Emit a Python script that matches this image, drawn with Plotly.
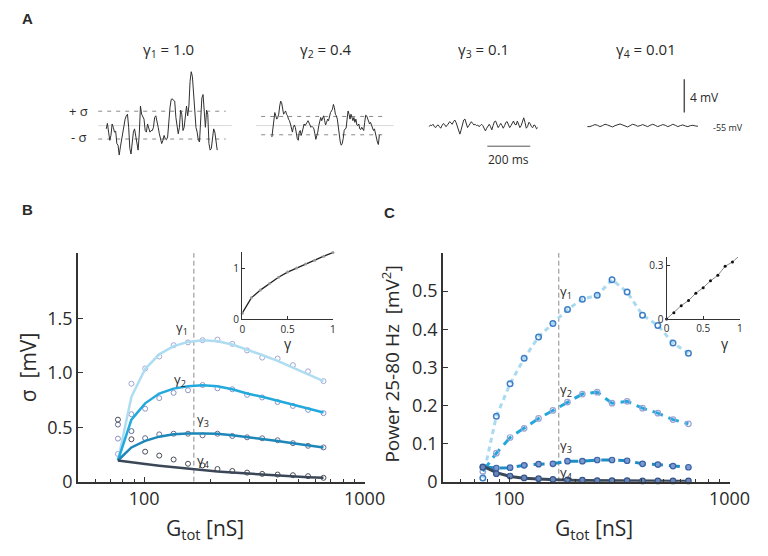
import numpy as np
import plotly.graph_objects as go

# ---------------- DATA ----------------
# Panel A: membrane potential deviation from rest (-55 mV), in mV, uniformly sampled
dv_gamma1 = [-0.39, 0.27, -0.78, -1.76, -1.18, 0.20, -0.20, -0.78, -0.67, -2.16, -2.35, -3.53, -2.55, -1.57,
             -0.78, 0.0, 0.78, 1.18, 1.37, -0.20, -2.75, -3.41, -2.16, -0.78, -0.39, -1.18, -1.76, -2.94,
             -0.98, 2.35, 1.37, 0.98, 0.78, -0.59, -0.78, 0.20, -0.39, -0.78, -0.59, -0.59, -0.20, 0.98,
             1.18, 0.59, -0.20, -0.98, -1.57, -2.16, -1.76, -1.18, -1.57, -1.69, -1.37, 0.78, 2.16, 3.14,
             3.22, 3.02, 2.94, 0.98, -0.20, -0.98, -0.20, 1.84, 1.37, -0.59, -0.20, 1.18, 2.35, 1.18, 2.35,
             5.29, 6.47, 5.88, 4.12, 1.37, -0.20, -0.78, -1.76, -1.96, 0.98, 3.33, 3.73, 1.76, -0.20, 1.84,
             1.37, -2.16, -2.94, -2.75, -1.37, -0.39, -0.78, -1.76, -2.94]
dv_gamma2 = [-1.37, -0.39, 0.98, 1.57, 1.18, 0.78, 0.98, 1.37, 2.35, 2.94, 2.75, 1.96, 1.37, 1.57, 1.76,
             1.37, 1.18, 0.78, 0.59, 0.20, -0.39, -0.78, -0.20, 0.08, -0.20, -0.98, -1.57, -1.76, -0.78,
             -0.59, -1.18, -0.78, 0.0, 0.20, 0.0, 0.31, 0.39, 0.59, 0.39, 0.08, -0.20, -0.08, -0.20, -0.39,
             -0.98, -1.65, -1.18, -0.78, 0.0, 0.78, 0.98, 0.59, 0.98, 1.18, 0.59, 0.08, 0.39, 0.78, 0.59,
             1.18, 1.57, 1.76, 1.96, 2.55, 2.16, 1.37, 1.18, 0.78, -0.39, -1.18, -1.96, -2.35, -2.16, -1.57,
             -0.59, -0.39, -0.31, 0.78, 1.76, 1.37, 0.78, 1.37, 0.98, 0.59, 0.98, 0.39, 0.78, 0.08, 0.0,
             0.20, -0.39, -0.47, -0.20, -0.39, -0.59, 0.39, 1.25, 1.18, 0.78, 0.59, 0.20, 0.39, 0.0, -0.20,
             -0.59, -0.39, -0.98, -1.37, -1.96, -2.27, -1.18, -1.10]
dv_gamma3 = [-0.12, 0.08, 0.0, 0.16, -0.12, -0.24, 0.0, 0.08, -0.12, -0.31, 0.0, 0.24, 0.16, -0.12, 0.0,
             0.27, 0.47, 0.35, 0.16, 0.47, 0.67, 0.39, -0.12, -0.71, -1.02, -0.51, 0.27, 0.67, 0.78, 0.27,
             -0.24, 0.0, 0.20, 0.47, 0.27, 0.08, 0.16, 0.0, 0.08, -0.12, 0.0, 0.16, 0.0, -0.31, -0.63,
             -0.31, 0.0, 0.16, -0.12, -0.51, 0.0, 0.47, 0.55, 0.16, -0.24, 0.0, 0.27, 0.0, -0.31, 0.0,
             0.39, 0.47, 0.08, -0.24, 0.0, 0.39, 0.55, 0.16, 0.08, 0.55, 0.24, -0.24, 0.0, 0.47, 0.94,
             0.39, -0.31, -0.12, 0.39, 0.27, -0.12, -0.24, 0.08, 0.0, -0.39, -0.24]
dv_gamma4 = [-0.12, -0.12, 0.0, 0.12, 0.04, -0.12, 0.0, 0.16, 0.08, -0.08, -0.16, 0.0, 0.12, 0.20, 0.08,
             -0.08, -0.16, 0.0, 0.16, 0.08, -0.08, 0.0, 0.12, 0.0, -0.12, 0.04, 0.16, 0.04, -0.12, 0.0,
             0.12, 0.04, -0.12, 0.0, 0.16, 0.04, -0.12, 0.0, 0.08, -0.04, -0.12, 0.0, 0.04, -0.04, -0.08]
dt_ms = [5.5, 4.55, 5.95, 11.7]          # sampling interval of each trace
sigma_trace_gamma1 = [1.73, -1.61]        # +sigma / -sigma lines (mV)
sigma_trace_gamma2 = [1.10, -1.10]
gamma_titles = ["γ<sub>1</sub> = 1.0", "γ<sub>2</sub> = 0.4", "γ<sub>3</sub> = 0.1", "γ<sub>4</sub> = 0.01"]
scalebar_ms = 200
scalebar_mV = 4

# Panels B and C: total conductance (nS)
G_tot = [76, 87.5, 101, 117, 136, 158, 184, 215, 251, 293, 343, 403, 473, 554, 651]
G_ref = 168

# Panel B: sigma (mV), simulation (circles) and model (lines)
sigma_sim_g1 = [0.255, 0.90, 1.04, 1.15, 1.254, 1.28, 1.30, 1.305, 1.266, 1.206, 1.14, 1.131, 1.071, 1.014, 0.924]
sigma_sim_g2 = [0.396, 0.62, 0.67, 0.768, 0.816, 0.84, 0.888, 0.858, 0.849, 0.798, 0.774, 0.732, 0.696, 0.66, 0.63]
sigma_sim_g3 = [0.525, 0.465, 0.40, 0.435, 0.441, 0.441, 0.426, 0.441, 0.42, 0.408, 0.399, 0.381, 0.354, 0.33, 0.315]
sigma_sim_g4 = [0.57, 0.39, 0.276, 0.24, 0.204, 0.165, 0.15, 0.117, 0.099, 0.084, 0.072, 0.066, 0.06, 0.051, 0.036]
sigma_fit_g1 = [0.195, 0.78, 1.035, 1.17, 1.245, 1.284, 1.30, 1.29, 1.26, 1.215, 1.164, 1.11, 1.05, 0.99, 0.924]
sigma_fit_g2 = [0.195, 0.57, 0.72, 0.81, 0.855, 0.876, 0.885, 0.876, 0.849, 0.81, 0.78, 0.744, 0.705, 0.675, 0.636]
sigma_fit_g3 = [0.195, 0.315, 0.375, 0.414, 0.435, 0.444, 0.444, 0.441, 0.426, 0.411, 0.396, 0.375, 0.354, 0.336, 0.315]
sigma_fit_g4 = [0.195, 0.177, 0.162, 0.147, 0.132, 0.117, 0.105, 0.093, 0.084, 0.075, 0.066, 0.057, 0.051, 0.042, 0.036]

# Panel C: power 25-80 Hz (mV^2)
power_g1 = [0.010, 0.172, 0.257, 0.324, 0.380, 0.415, 0.452, 0.479, 0.489, 0.530, 0.498, 0.437, 0.410, 0.364, 0.337]
power_g2 = [0.027, 0.075, 0.116, 0.140, 0.166, 0.187, 0.209, 0.230, 0.235, 0.206, 0.211, 0.193, 0.180, 0.163, 0.152]
power_g3 = [0.039, 0.036, 0.037, 0.043, 0.046, 0.047, 0.054, 0.054, 0.057, 0.057, 0.055, 0.047, 0.045, 0.041, 0.038]
power_g4 = [0.038, 0.021, 0.015, 0.010, 0.008, 0.006, 0.005, 0.004, 0.003, 0.003, 0.003, 0.002, 0.002, 0.002, 0.002]
power_fit_g4 = [0.041, 0.024, 0.014, 0.009, 0.007, 0.005, 0.004, 0.003, 0.003, 0.002, 0.002, 0.002, 0.002, 0.001, 0.001]

# Insets
gamma_vals = [0, 0.1, 0.2, 0.3, 0.4, 0.5, 0.6, 0.7, 0.8, 0.9, 1.0]
sigma_vs_gamma = [0.12, 0.42, 0.57, 0.70, 0.82, 0.92, 1.0, 1.08, 1.15, 1.23, 1.30]
power_vs_gamma = [0.0, 0.035, 0.075, 0.104, 0.145, 0.176, 0.214, 0.245, 0.296, 0.32, 0.357]

# ---------------- LAYOUT HELPERS ----------------
W, H = 768, 556
FONT = "Open Sans"
TXT = "#2a2a2a"


def dx(a, b):
    return [a / W, b / W]


def dy(top, bottom):
    return [1 - bottom / H, 1 - top / H]


def px(x):
    return x / W


def py(y):
    return 1 - y / H


def xid(n):
    return "x" if n == 1 else f"x{n}"


def yid(n):
    return "y" if n == 1 else f"y{n}"


def xkey(n):
    return "xaxis" if n == 1 else f"xaxis{n}"


def ykey(n):
    return "yaxis" if n == 1 else f"yaxis{n}"


fig = go.Figure()

# ---------------- PANEL A ----------------
MS_PX = 0.2216   # px per ms
MV_PX = 8.5      # px per mV
A_top, A_bot, A_base = 60, 165, 120
A_specs = [  # (data, domain left px, domain right px, trace start px)
    (dv_gamma1, 90, 228, 98.3),
    (dv_gamma2, 253, 395, 269.3),
    (dv_gamma3, 425, 560, 431.7),
    (dv_gamma4, 590, 760, 595.0),
]
layout_axes = {}
for i, (dv, L, R, S) in enumerate(A_specs):
    n = i + 1
    t = np.arange(len(dv)) * dt_ms[i]
    fig.add_trace(go.Scatter(x=t, y=dv, mode="lines", line=dict(color="#303030", width=1),
                             xaxis=xid(n), yaxis=yid(n), showlegend=False, hoverinfo="skip"))
    layout_axes[xkey(n)] = dict(domain=dx(L, R), range=[-(S - L) / MS_PX, (R - S) / MS_PX],
                                visible=False, anchor=yid(n))
    layout_axes[ykey(n)] = dict(domain=dy(A_top, A_bot),
                                range=[-(A_bot - A_base) / MV_PX, (A_base - A_top) / MV_PX],
                                visible=False, anchor=xid(n))

shapes = []
# baselines and sigma lines for traces 1 and 2
for n, sig, (f0, f1) in [(1, sigma_trace_gamma1, (0.0, 0.954)), (2, sigma_trace_gamma2, (0.037, 0.953))]:
    shapes.append(dict(type="line", xref=f"{xid(n)} domain", yref=yid(n), x0=0, x1=1, y0=0, y1=0,
                       line=dict(color="#d9d9d9", width=1), layer="below"))
    for s in sig:
        shapes.append(dict(type="line", xref=f"{xid(n)} domain", yref=yid(n), x0=f0, x1=f1, y0=s, y1=s,
                           line=dict(color="#8a8a8a", width=1, dash="4px,5px"), layer="below"))
# scale bars
bar_t0 = (491.7 - 431.7) / MS_PX
shapes.append(dict(type="line", xref="x3", yref="y3", x0=bar_t0, x1=bar_t0 + scalebar_ms,
                   y0=-2.47, y1=-2.47, line=dict(color="#555", width=1)))
bar_t = (695 - 595) / MS_PX
shapes.append(dict(type="line", xref="x4", yref="y4", x0=bar_t, x1=bar_t,
                   y0=1.565, y1=1.565 + scalebar_mV, line=dict(color="#555", width=1.5)))

annotations = []


def ann(text, x, y, size, xanchor="center", yanchor="middle", color=TXT, angle=0, family=FONT):
    annotations.append(dict(text=text, x=px(x), y=py(y), xref="paper", yref="paper", showarrow=False,
                            xanchor=xanchor, yanchor=yanchor, textangle=angle,
                            font=dict(size=size, color=color, family=family)))


for txt, cx in zip(gamma_titles, [163, 325, 488, 655]):
    ann(txt, cx, 43, 15)
ann("+ σ", 70, 105, 13)
ann("- σ", 70, 132, 13)
ann(f"{scalebar_ms} ms", 514, 155, 12)
ann(f"{scalebar_mV} mV", 699, 91, 12, xanchor="left")
ann("-55 mV", 723, 121.5, 9, xanchor="left")

# panel letters
ann("<b>A</b>", 17, 11, 15, family="Liberation Sans")
ann("<b>B</b>", 17, 206, 15, family="Liberation Sans")
ann("<b>C</b>", 391, 209, 15, family="Liberation Sans")

# ---------------- PANEL B ----------------
cB = ["#aedcf1", "#22a9dd", "#1c87b8", "#3b4756"]
cB_circ = ["#a3a8d4", "#8e94c6", "#666b90", "#474c56"]
for sim, col in zip([sigma_sim_g1, sigma_sim_g2, sigma_sim_g3, sigma_sim_g4], cB_circ):
    fig.add_trace(go.Scatter(x=G_tot, y=sim, mode="markers", xaxis="x5", yaxis="y5",
                             marker=dict(symbol="circle-open", size=5, color=col, line=dict(width=1)),
                             showlegend=False, hoverinfo="skip", cliponaxis=False))
fig.add_trace(go.Scatter(x=[G_ref, G_ref], y=[0, 2.1], mode="lines", xaxis="x5", yaxis="y5",
                         line=dict(color="#8c8c8c", width=1, dash="5px,3px"), showlegend=False, hoverinfo="skip"))
for fit, col in zip([sigma_fit_g1, sigma_fit_g2, sigma_fit_g3, sigma_fit_g4], cB):
    fig.add_trace(go.Scatter(x=G_tot, y=fit, mode="lines", xaxis="x5", yaxis="y5",
                             line=dict(color=col, width=2.5), showlegend=False, hoverinfo="skip"))

# ---------------- PANEL C ----------------
fig.add_trace(go.Scatter(x=[G_ref, G_ref], y=[0, 0.6], mode="lines", xaxis="x7", yaxis="y7",
                         line=dict(color="#8c8c8c", width=1, dash="5px,3px"), showlegend=False, hoverinfo="skip"))
for p, col, dash in [(power_g1, "#aadaf0", "5px,4px"), (power_g2, "#22a8dc", "11px,6px"),
                     (power_g3, "#1d8ec3", "11px,6px")]:
    fig.add_trace(go.Scatter(x=G_tot, y=p, mode="lines", xaxis="x7", yaxis="y7",
                             line=dict(color=col, width=3, dash=dash), showlegend=False, hoverinfo="skip"))
fig.add_trace(go.Scatter(x=G_tot, y=power_fit_g4, mode="lines", xaxis="x7", yaxis="y7",
                         line=dict(color="#3b4858", width=3), showlegend=False, hoverinfo="skip"))
for p, sym, fill, lc, lw in [(power_g1, "circle-open", "#3f7ec6", "#3f7ec6", 1.5),
                             (power_g2, "circle-open", "#9aa4d4", "#9aa4d4", 1.2),
                             (power_g3, "circle", "#7b9bd0", "#3a62a8", 1.2),
                             (power_g4, "circle", "#6a86b8", "#34558c", 1.2)]:
    fig.add_trace(go.Scatter(x=G_tot, y=p, mode="markers", xaxis="x7", yaxis="y7",
                             marker=dict(symbol=sym, size=5.5, color=fill, line=dict(color=lc, width=lw)),
                             showlegend=False, hoverinfo="skip", cliponaxis=False))

# ---------------- INSETS ----------------
fig.add_trace(go.Scatter(x=gamma_vals, y=sigma_vs_gamma, mode="lines+markers", xaxis="x6", yaxis="y6",
                         line=dict(color="#222", width=1.3), marker=dict(size=3, color="#9a9a9a"),
                         showlegend=False, hoverinfo="skip", cliponaxis=False))
fig.add_trace(go.Scatter(x=gamma_vals, y=power_vs_gamma, mode="lines+markers", xaxis="x8", yaxis="y8",
                         line=dict(color="#8a8a8a", width=1), marker=dict(size=3, color="#111"),
                         showlegend=False, hoverinfo="skip", cliponaxis=False))

minor_vals = [50, 60, 70, 80, 90, 200, 300, 400, 500, 600, 700, 800, 900]
axline = dict(showline=True, linecolor="#333", linewidth=1.5, ticks="inside", tickcolor="#333",
              showgrid=False, zeroline=False)


def main_x(domain, anchor):
    return dict(**axline, type="log", range=[np.log10(50), 3], domain=domain, anchor=anchor,
                tickvals=[100, 1000], ticktext=["100", "1000"], ticklen=5,
                tickfont=dict(size=18, color=TXT, family=FONT),
                minor=dict(tickvals=minor_vals, ticks="inside", ticklen=3, tickcolor="#333", showgrid=False))


layout_axes["xaxis5"] = main_x(dx(69, 365), "y5")
layout_axes["yaxis5"] = dict(**axline, range=[0, 2.1], domain=dy(250, 483.3), anchor="x5",
                             tickvals=[0, 0.5, 1.0, 1.5], ticktext=["0", "0.5", "1.0", "1.5"], ticklen=5,
                             tickfont=dict(size=18, color=TXT, family=FONT))
layout_axes["xaxis7"] = main_x(dx(445.7, 741.7), "y7")
layout_axes["yaxis7"] = dict(**axline, range=[0, 0.6], domain=dy(250, 483.3), anchor="x7",
                             tickvals=[0, 0.1, 0.2, 0.3, 0.4, 0.5],
                             ticktext=["0", "0.1", "0.2", "0.3", "0.4", "0.5"], ticklen=5,
                             tickfont=dict(size=18, color=TXT, family=FONT))
inset_ax = dict(showline=True, linecolor="#333", linewidth=1.3, ticks="inside", tickcolor="#333", ticklen=3,
                showgrid=False, zeroline=False, tickfont=dict(size=10, color=TXT, family=FONT))
layout_axes["xaxis6"] = dict(**inset_ax, range=[0, 1], domain=dx(238.7, 332.3), anchor="y6",
                             tickvals=[0, 0.5, 1], ticktext=["0", "0.5", "1"])
layout_axes["yaxis6"] = dict(**inset_ax, range=[0, 1.31], domain=dy(249, 317.7), anchor="x6",
                             tickvals=[0, 1], ticktext=["0", "1"])
layout_axes["xaxis8"] = dict(**inset_ax, range=[0, 1], domain=dx(676.7, 752.3), anchor="y8",
                             tickvals=[0, 0.5, 1], ticktext=["0", "0.5", "1"])
layout_axes["yaxis8"] = dict(**inset_ax, range=[0, 0.348], domain=dy(254, 317.3), anchor="x8",
                             tickvals=[0, 0.3], ticktext=["0", "0.3"])

# axis titles and curve labels
ann("σ  [mV]", 17, 367, 21, angle=-90)
ann("G<sub>tot</sub> [nS]", 200, 532, 21)
ann("Power 25-80 Hz  [mV<sup>2</sup>]", 392, 363, 19, angle=-90)
ann("G<sub>tot</sub> [nS]", 602, 532, 21)
ann("γ", 286, 342, 14)
ann("γ", 737, 342, 14)
for i, (x, y) in enumerate([(176.7, 326), (174, 379), (198.3, 420), (198.3, 462)]):
    ann(f"γ<sub>{i + 1}</sub>", x, y, 13)
for i, (x, y) in enumerate([(573, 290), (573, 390), (573, 447), (573, 474)]):
    ann(f"γ<sub>{i + 1}</sub>", x, y, 13)

fig.update_layout(width=W, height=H, margin=dict(l=0, r=0, t=0, b=0),
                  paper_bgcolor="white", plot_bgcolor="rgba(0,0,0,0)",
                  font=dict(family=FONT, color=TXT), shapes=shapes, annotations=annotations,
                  showlegend=False, **layout_axes)

fig.write_html("out.html")
